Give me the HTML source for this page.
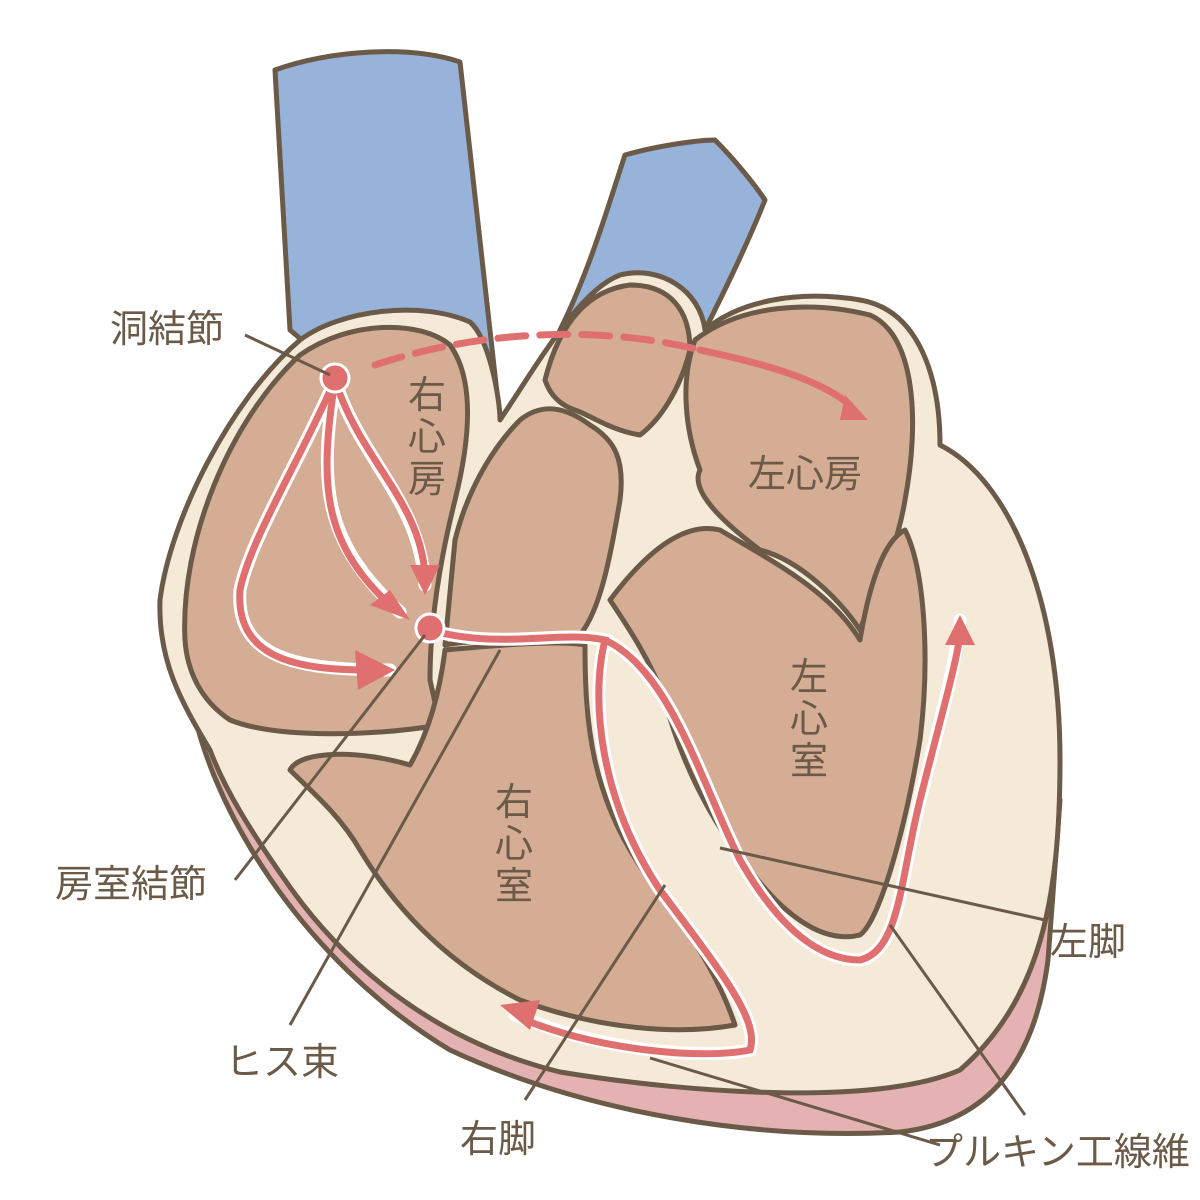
<!DOCTYPE html>
<html><head><meta charset="utf-8"><style>
html,body{margin:0;padding:0;background:#fff;}
svg{display:block}
text{font-family:"Liberation Sans","Noto Sans CJK JP",sans-serif;fill:#6b5a48;}
</style></head><body>
<svg width="1200" height="1200" viewBox="0 0 1200 1200" xmlns="http://www.w3.org/2000/svg">
<g stroke="#6b5a48" stroke-width="5" stroke-linejoin="round" stroke-linecap="round">
<path d="M190,690 C205,800 300,960 450,1050 C590,1115 760,1140 900,1132 C990,1122 1035,1060 1048,960 L1060,800 L1040,750 L220,690 Z" fill="#e5b2b3"/>
<path d="M275,70 C330,50 410,45 460,62 C470,150 480,250 500,420 L420,440 L290,330 C285,250 280,150 275,70 Z" fill="#97b3da"/>
<path d="M625,155 C660,145 700,140 715,140 C735,160 755,185 765,200 C745,250 720,300 700,340 L560,330 C590,270 610,200 625,155 Z" fill="#97b3da"/>
<path d="M160,600 C170,520 230,400 300,340 C340,310 420,300 470,322 C490,340 500,400 500,420 C540,360 580,290 620,275 C660,265 700,290 705,330 C740,300 800,290 860,300 C920,310 940,380 940,445 C1010,480 1060,600 1060,760 C1060,900 1040,1000 960,1070 C880,1105 700,1095 560,1072 C430,1040 340,960 285,880 C250,830 225,790 210,750 C180,700 158,660 160,600 Z" fill="#f5ead8"/>
<path d="M185,640 C180,540 230,420 300,355 C350,320 420,320 450,345 C475,380 470,440 455,500 C440,560 430,620 430,680 L440,725 C380,735 280,740 230,720 C200,700 187,670 185,640 Z" fill="#d4ad94"/>
<path d="M545,380 C560,320 590,290 630,285 C670,285 690,310 690,350 C680,390 660,420 640,435 C610,430 590,415 575,410 C560,405 550,395 545,380 Z" fill="#d4ad94"/>
<path d="M455,540 C470,480 500,440 520,420 C545,400 570,410 590,425 C615,440 625,460 620,500 C610,560 600,610 580,635 C520,640 470,640 445,645 Z" fill="#d4ad94"/>
<path d="M445,650 C500,645 560,640 585,645 C585,720 590,800 650,880 C690,930 720,980 735,1025 C680,1035 600,1030 520,1000 C440,960 390,900 360,850 C340,815 310,790 290,770 C300,750 360,750 410,765 C430,730 440,690 445,650 Z" fill="#d4ad94"/>
<path d="M695,340 C740,305 810,300 870,315 C915,335 920,420 905,500 C895,560 870,600 860,630 C840,600 800,560 760,550 C720,520 690,490 700,470 C685,430 680,380 695,340 Z" fill="#d4ad94"/>
<path d="M610,600 C640,560 680,520 720,530 C770,560 830,590 860,640 C870,580 885,540 905,530 C925,570 930,660 920,740 C905,830 880,920 860,935 C820,945 780,910 750,870 C710,820 680,760 665,700 C650,660 630,630 610,600 Z" fill="#d4ad94"/>
</g>
<g fill="none" stroke="#fff" stroke-width="13" stroke-linecap="round">
<path d="M335,380 C300,460 250,540 240,590 C235,660 300,670 390,670"/>
<path d="M335,380 C320,480 320,540 400,612"/>
<path d="M335,380 C360,460 420,500 425,585"/>
<path d="M430,630 C500,650 560,630 605,640 C590,700 600,800 660,890 C720,970 760,1020 750,1050 C700,1060 600,1050 515,1015"/>
<path d="M605,640 C670,670 700,780 740,860 C780,930 820,960 860,960 C900,950 900,880 920,800 C940,720 955,670 960,620"/>
</g>
<g fill="none" stroke="#e07070" stroke-width="7" stroke-linecap="round">
<path d="M335,380 C300,460 250,540 240,590 C235,660 300,670 370,670"/>
<path d="M335,380 C320,480 320,540 390,605"/>
<path d="M335,380 C360,460 420,500 425,575"/>
<path d="M430,630 C500,650 560,630 605,640 C590,700 600,800 660,890 C720,970 760,1020 750,1050 C700,1060 600,1050 525,1020"/>
<path d="M605,640 C670,670 700,780 740,860 C780,930 820,960 860,960 C900,950 900,880 920,800 C940,720 955,670 960,635"/>
<path d="M375,365 C480,330 600,325 700,350" stroke-dasharray="28,14"/>
<path d="M700,350 C770,365 820,380 850,405"/>
</g>
<g fill="#e07070">
<path d="M395,670 L355,650 L358,690 Z"/>
<path d="M410,620 L370,605 L390,590 Z"/>
<path d="M425,595 L410,565 L440,565 Z"/>
<path d="M500,1005 L540,1000 L530,1030 Z"/>
<path d="M960,615 L945,645 L975,645 Z"/>
<path d="M868,420 L845,395 L840,420 Z"/>
<circle cx="335" cy="378" r="14" stroke="#fff" stroke-width="3"/>
<circle cx="430" cy="628" r="14" stroke="#fff" stroke-width="3"/>
</g>
<g stroke="#6b5a48" stroke-width="3">
<line x1="245" y1="335" x2="330" y2="375"/>
<line x1="235" y1="880" x2="425" y2="635"/>
<line x1="290" y1="1025" x2="500" y2="650"/>
<line x1="525" y1="1100" x2="665" y2="885"/>
<line x1="1045" y1="920" x2="720" y2="848"/>
<line x1="1025" y1="1115" x2="890" y2="925"/>
<line x1="940" y1="1145" x2="650" y2="1058"/>
</g>
<g font-size="38">
<text x="110" y="342">洞結節</text>
<text x="55" y="897">房室結節</text>
<text x="225" y="1075">ヒス束</text>
<text x="460" y="1152">右脚</text>
<text x="1050" y="955">左脚</text>
<text x="925" y="1165">プルキン工線維</text>
<text x="408" y="408">右</text><text x="408" y="450">心</text><text x="408" y="492">房</text>
<text x="748" y="487">左心房</text>
<text x="790" y="690">左</text><text x="790" y="732">心</text><text x="790" y="774">室</text>
<text x="495" y="815">右</text><text x="495" y="857">心</text><text x="495" y="899">室</text>
</g>
</svg>
</body></html>
